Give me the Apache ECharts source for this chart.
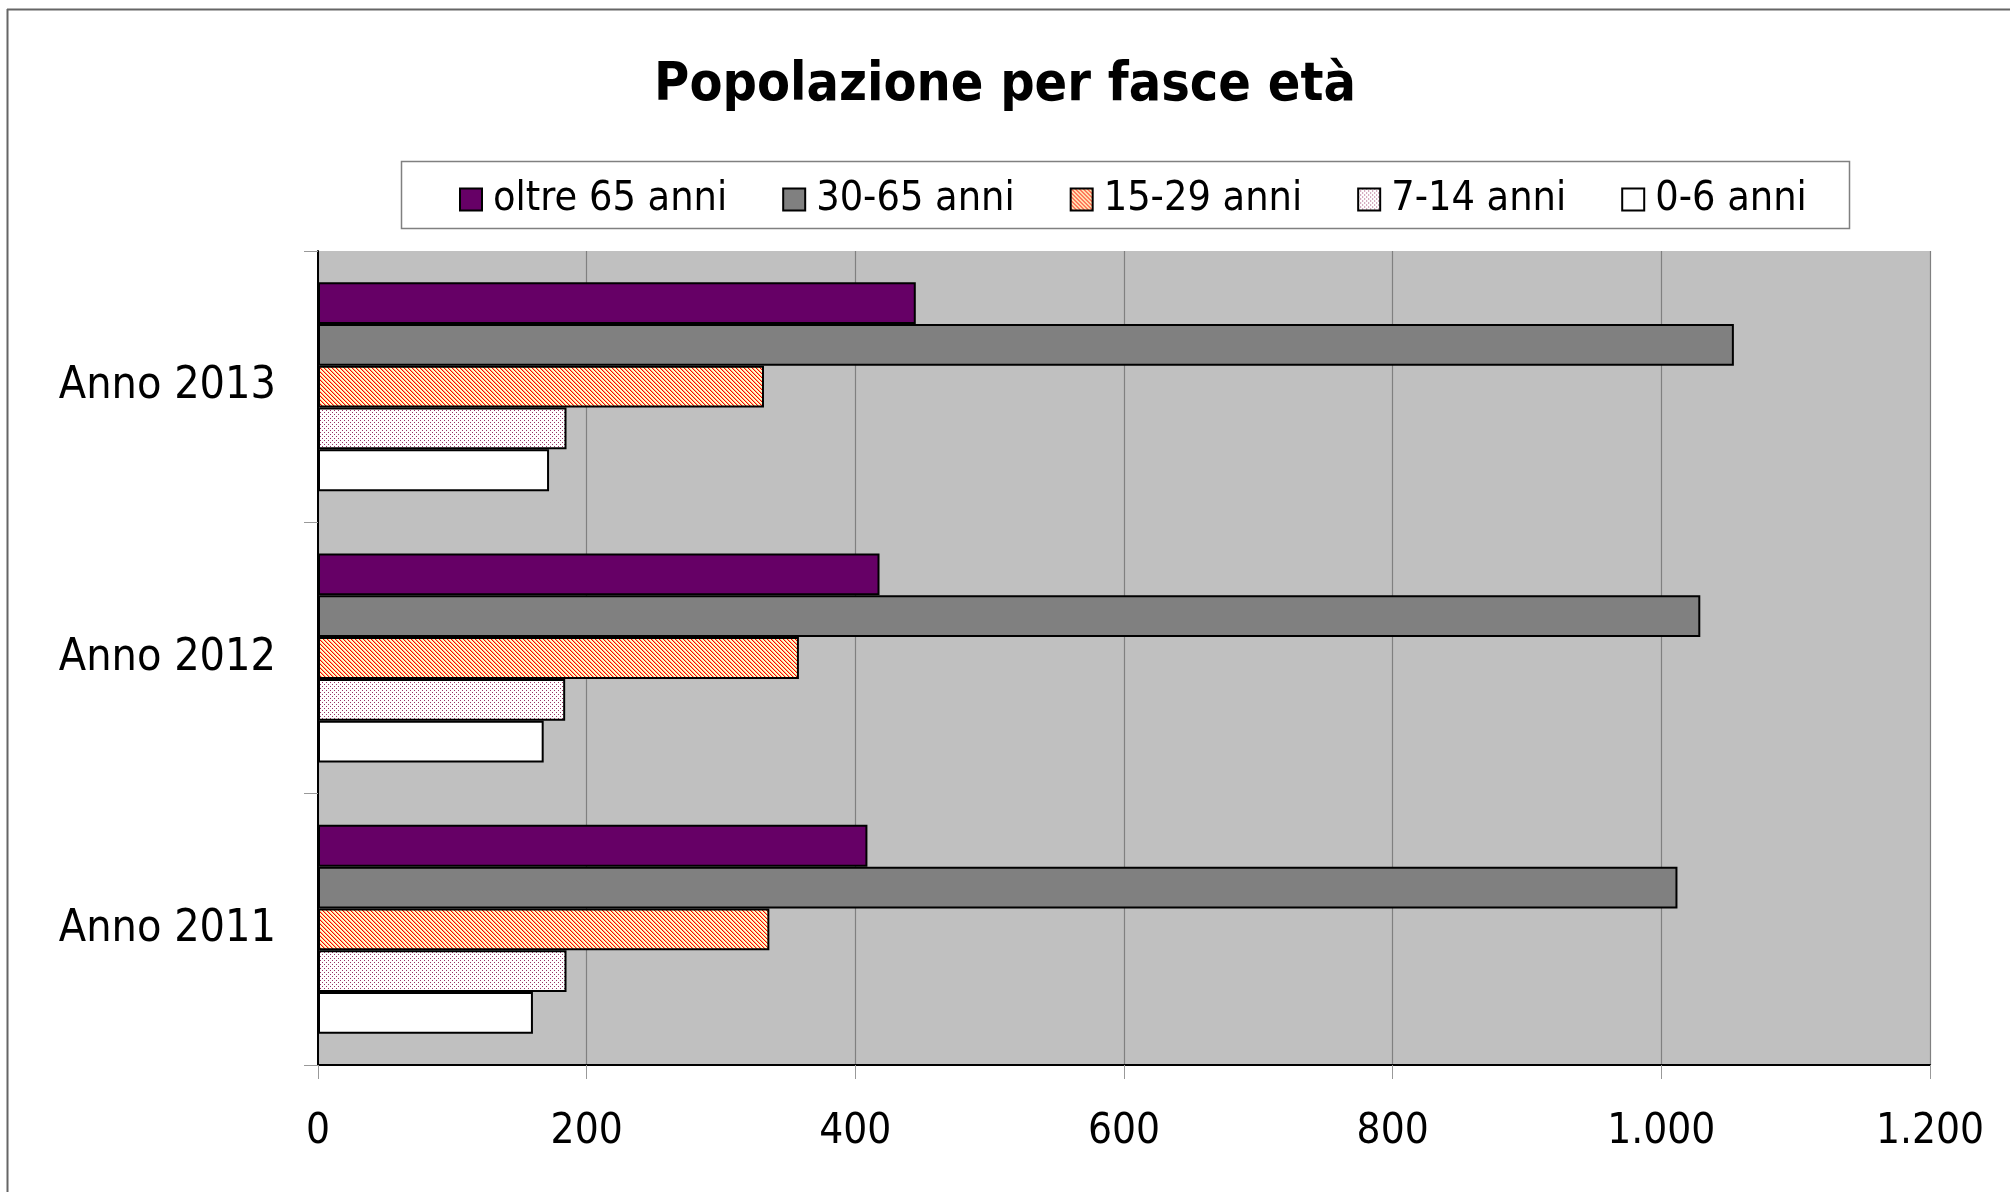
<!DOCTYPE html>
<html>
<head>
<meta charset="utf-8">
<script src="https://cdn.jsdelivr.net/npm/echarts@6/dist/echarts.min.js"></script>
<style>
html,body{margin:0;padding:0;background:#fff;}
#chart{width:2010px;height:1192px;}
</style>
</head>
<body>
<div id="chart"></div>
<script>
const categories = ['Anno 2011', 'Anno 2012', 'Anno 2013'];
const seriesNames = ['oltre 65 anni', '30-65 anni', '15-29 anni', '7-14 anni', '0-6 anni'];
const oltre65 = [409, 418, 445];
const anni30_65 = [1012, 1029, 1054];
const anni15_29 = [336, 358, 332];
const anni7_14 = [185, 184, 185];
const anni0_6 = [160, 168, 172];
const xTicks = [0, 200, 400, 600, 800, 1000, 1200];

const FONT = "'DejaVu Sans Condensed', 'DejaVu Sans', sans-serif";

function hatchPattern() {
  const c = document.createElement('canvas');
  c.width = 4; c.height = 4;
  const g = c.getContext('2d');
  for (let x = 0; x < 4; x++) for (let y = 0; y < 4; y++) {
    const d = ((x - y) % 4 + 4) % 4;
    g.fillStyle = d === 0 ? '#FF0000' : (d === 1 ? '#FFB080' : '#FFFFCC');
    g.fillRect(x, y, 1, 1);
  }
  return { image: c, repeat: 'repeat' };
}
function dotPattern() {
  const c = document.createElement('canvas');
  c.width = 4; c.height = 4;
  const g = c.getContext('2d');
  g.fillStyle = '#FFFFFF'; g.fillRect(0, 0, 4, 4);
  g.fillStyle = '#993366';
  g.fillRect(0, 0, 1, 1);
  g.fillRect(2, 2, 1, 1);
  return { image: c, repeat: 'repeat' };
}

const fills = ['#660066', '#808080', hatchPattern(), dotPattern(), '#FFFFFF'];
const values = [oltre65, anni30_65, anni15_29, anni7_14, anni0_6];

const chart = echarts.init(document.getElementById('chart'), null, { renderer: 'canvas' });
const option = {
  backgroundColor: '#FFFFFF',
  animation: false,
  title: {
    text: 'Popolazione per fasce età',
    left: 'center',
    top: 54,
    textStyle: { fontFamily: FONT, fontWeight: 'bold', fontSize: 53.5, color: '#000' }
  },
  legend: {
    data: seriesNames,
    left: 454,
    top: 174,
    itemWidth: 22,
    itemHeight: 22,
    itemGap: 55,
    icon: 'rect',
    textStyle: { fontFamily: FONT, fontSize: 41, color: '#000', padding: [0, 0, 0, 6] }
  },
  graphic: [
    { type: 'rect', shape: { x: 401.5, y: 161.5, width: 1448, height: 67 }, style: { fill: '#fff', stroke: '#808080', lineWidth: 1.5 }, z: -1 },
    { type: 'line', shape: { x1: 7.5, y1: 9, x2: 7.5, y2: 1192 }, style: { stroke: '#666', lineWidth: 2 } },
    { type: 'line', shape: { x1: 7, y1: 9.5, x2: 2010, y2: 9.5 }, style: { stroke: '#666', lineWidth: 2 } }
  ],
  grid: {
    left: 318, right: 80, top: 251, bottom: 127,
    show: true, backgroundColor: '#C0C0C0', borderWidth: 0
  },
  xAxis: {
    type: 'value', min: 0, max: 1200, interval: 200,
    axisLine: { show: true, lineStyle: { color: '#000', width: 2 } },
    axisTick: { show: true, length: 14, lineStyle: { color: '#999' } },
    splitLine: { show: true, lineStyle: { color: '#808080', width: 1.2 } },
    axisLabel: {
      margin: 46, fontFamily: FONT, fontSize: 42, color: '#000',
      formatter: v => v >= 1000 ? Math.floor(v / 1000) + '.' + String(v % 1000).padStart(3, '0') : String(v)
    }
  },
  yAxis: {
    type: 'category', data: categories,
    axisLine: { show: true, lineStyle: { color: '#000', width: 2 } },
    axisTick: { show: true, length: 14, lineStyle: { color: '#999' } },
    axisLabel: { margin: 42, fontFamily: FONT, fontSize: 44.5, color: '#000' }
  },
  series: seriesNames.map((name, i) => ({
    name: name,
    type: 'bar',
    data: values[i],
    barGap: '0%',
    barCategoryGap: '23%',
    itemStyle: { color: fills[i], borderColor: '#000', borderWidth: 2 }
  }))
};
chart.setOption(option);
</script>
</body>
</html>
